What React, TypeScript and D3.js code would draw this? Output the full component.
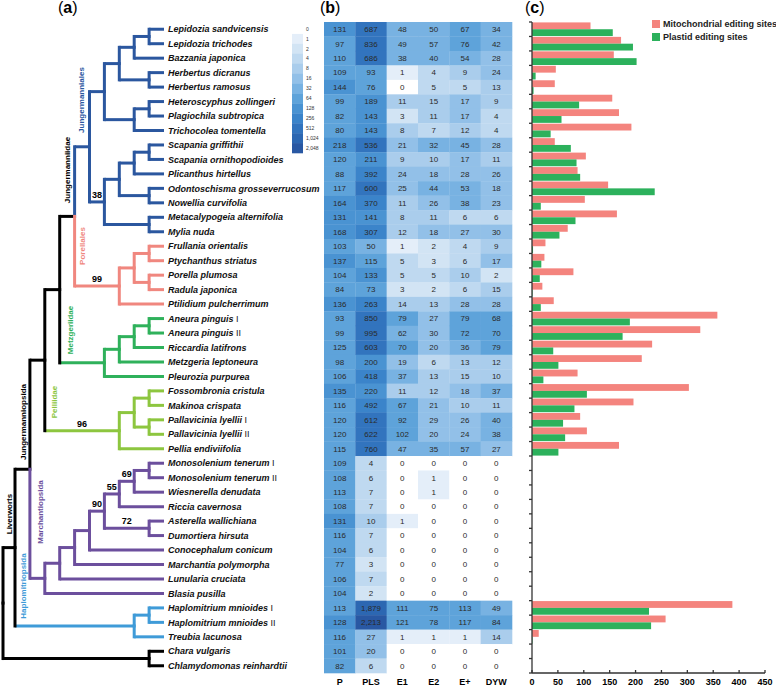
import React from "react";
import * as d3 from "d3";

const taxa = [
  "Lepidozia sandvicensis", "Lepidozia trichodes", "Bazzania japonica", "Herbertus dicranus", "Herbertus ramosus",
  "Heteroscyphus zollingeri", "Plagiochila subtropica", "Trichocolea tomentella", "Scapania griffithii", "Scapania ornithopodioides",
  "Plicanthus hirtellus", "Odontoschisma grosseverrucosum", "Nowellia curvifolia", "Metacalypogeia alternifolia", "Mylia nuda",
  "Frullania orientalis", "Ptychanthus striatus", "Porella plumosa", "Radula japonica", "Ptilidium pulcherrimum",
  "Aneura pinguis I", "Aneura pinguis II", "Riccardia latifrons", "Metzgeria leptoneura", "Pleurozia purpurea",
  "Fossombronia cristula", "Makinoa crispata", "Pallavicinia lyellii I", "Pallavicinia lyellii II", "Pellia endiviifolia",
  "Monosolenium tenerum I", "Monosolenium tenerum II", "Wiesnerella denudata", "Riccia cavernosa", "Asterella wallichiana",
  "Dumortiera hirsuta", "Conocephalum conicum", "Marchantia polymorpha", "Lunularia cruciata", "Blasia pusilla",
  "Haplomitrium mnioides I", "Haplomitrium mnioides II", "Treubia lacunosa", "Chara vulgaris", "Chlamydomonas reinhardtii",
];

const heatColumns = ["P", "PLS", "E1", "E2", "E+", "DYW"];
const valP = [131, 97, 110, 109, 144, 99, 82, 80, 218, 120, 88, 117, 164, 131, 168, 103, 137, 104, 84, 136, 93, 99, 125, 98, 106, 135, 116, 120, 120, 115, 109, 108, 113, 108, 131, 116, 104, 77, 106, 104, 113, 128, 116, 101, 82];
const valPLS = [687, 836, 686, 93, 76, 189, 143, 143, 536, 211, 392, 600, 370, 141, 307, 50, 115, 133, 73, 263, 850, 995, 603, 200, 418, 220, 492, 612, 622, 760, 4, 6, 7, 7, 10, 7, 6, 3, 7, 2, 1879, 2213, 27, 20, 6];
const valE1 = [48, 49, 38, 1, 0, 11, 3, 8, 21, 9, 24, 25, 11, 8, 12, 1, 5, 5, 3, 14, 79, 62, 70, 19, 37, 11, 67, 92, 102, 47, 0, 0, 0, 0, 1, 0, 0, 0, 0, 0, 111, 121, 1, 0, 0];
const valE2 = [50, 57, 40, 4, 5, 15, 11, 7, 32, 10, 18, 44, 26, 11, 18, 2, 3, 5, 2, 13, 27, 30, 20, 6, 13, 12, 21, 29, 20, 35, 0, 1, 1, 0, 0, 0, 0, 0, 0, 0, 75, 78, 1, 0, 0];
const valEplus = [67, 76, 54, 9, 5, 17, 17, 12, 45, 17, 28, 53, 38, 6, 27, 4, 6, 10, 6, 28, 79, 72, 36, 13, 15, 18, 10, 26, 24, 57, 0, 0, 0, 0, 0, 0, 0, 0, 0, 0, 113, 117, 1, 0, 0];
const valDYW = [34, 42, 28, 24, 13, 9, 4, 4, 28, 11, 26, 18, 23, 6, 30, 9, 17, 2, 15, 28, 68, 70, 79, 12, 10, 37, 11, 40, 38, 27, 0, 0, 0, 0, 0, 0, 0, 0, 0, 0, 49, 84, 14, 0, 0];

const legendBreaks = [0, 1, 2, 4, 8, 16, 32, 64, 128, 256, 512, 1024, 2048];
const legendColors = ["#ffffff", "#e4eef9", "#d2e4f4", "#bfd9f0", "#aacdec", "#92c0e8", "#78b2e2", "#5ea3da", "#4a93d2", "#3b84ca", "#3274be", "#2c67b2", "#2958a3"];

const mitoSites = [113, 172, 158, 46, 44, 155, 168, 192, 44, 104, 88, 147, 102, 164, 69, 26, 24, 80, 20, 42, 358, 325, 232, 212, 88, 303, 196, 93, 106, 168, 0, 0, 0, 0, 0, 0, 0, 0, 0, 0, 387, 258, 13, 0, 0];
const plastidSites = [156, 195, 202, 7, 3, 91, 57, 36, 75, 86, 93, 237, 17, 84, 53, 2, 18, 15, 1, 17, 189, 175, 41, 51, 22, 106, 82, 60, 64, 51, 0, 0, 0, 0, 0, 0, 0, 0, 0, 0, 226, 230, 1, 0, 0];
const barSeries = ["Mitochondrial editing sites", "Plastid editing sites"];
const barColors = ["#f4847e", "#2cb15c"];
const xTicks = [0, 50, 100, 150, 200, 250, 300, 350, 400, 450];

// tree topology: tip indices, support values, [clade] tags
const treeNewick =
  "(((((((((((0,1),2),(3,4)),((5,6),7)),((((8,9),10),(11,12)),(13,14))38)[Jungermanniales]," +
  "(((15,16),(17,18)),19)99[Porellales]),((((20,21),22),23),24)[Metzgeriidae])," +
  "(((25,26),(27,28)),29)96[Pelliidae]),((((((((30,31),32)69,33)55,(34,35)72)90,36),37),38),39)[Marchantiopsida])," +
  "((40,41),42)[Haplomitriopsida]),(43,44))";

const cladeNames = ["Jungermanniales", "Porellales", "Metzgeriidae", "Pelliidae", "Marchantiopsida", "Haplomitriopsida"];
const cladeColors = ["#2b579f", "#f0877f", "#2fb15b", "#8dc63f", "#6c4f9d", "#3f9bd8"];
const cladeColoredStem = [true, true, false, false, true, false];

const FONT = "'Liberation Sans', Arial, Helvetica, sans-serif";

function parseNewick(s: string) {
  let i = 0;
  function node(): any {
    const n: any = { children: [] };
    if (s[i] === "(") {
      i++;
      n.children.push(node());
      while (s[i] === ",") {
        i++;
        n.children.push(node());
      }
      i++;
    }
    let lab = "";
    while (i < s.length && /[0-9]/.test(s[i])) lab += s[i++];
    if (s[i] === "[") {
      const j = s.indexOf("]", i);
      n.clade = s.slice(i + 1, j);
      i = j + 1;
    }
    if (n.children.length === 0) n.tip = +lab;
    else if (lab) n.support = lab;
    return n;
  }
  return node();
}

export default function App() {
  const W = 776;
  const H = 689;
  const top = 22;
  const bottom = 673;
  const idx = taxa.map((_, i) => i);
  const rowBand = d3.scaleBand<number>().domain(idx).range([top, bottom]).padding(0);
  const yc = (i: number) => (rowBand(i) as number) + rowBand.bandwidth() / 2;

  // ---------- tree ----------
  const root = d3.hierarchy(parseNewick(treeNewick), (d: any) => (d.children.length ? d.children : null));
  const maxLevel = 11;
  root.eachAfter((n: any) => {
    if (!n.children) {
      n.level = maxLevel;
      n.yy = yc(n.data.tip);
    } else {
      n.level = d3.min(n.children, (c: any) => c.level) - 1;
      n.yy = (n.children[0].yy + n.children[n.children.length - 1].yy) / 2;
    }
  });
  const xTree = d3.scaleLinear().domain([0, 1, maxLevel]).range([3, 15, 164]);
  const cladeColor = d3.scaleOrdinal<string, string>().domain(cladeNames).range(cladeColors);
  root.eachBefore((n: any) => {
    n.color = n.data.clade ? cladeColor(n.data.clade) : n.parent ? n.parent.color : "#000";
  });
  const hLinks: any[] = [];
  const vLinks: any[] = [];
  const supports: any[] = [];
  root.descendants().forEach((c: any) => {
    if (!c.parent) return;
    const p = c.parent;
    const coloredStem = c.data.clade ? cladeColoredStem[cladeNames.indexOf(c.data.clade)] : true;
    hLinks.push({ x1: xTree(p.level), x2: xTree(c.level), y: c.yy, color: c.color });
    vLinks.push({ x: xTree(p.level), y1: p.yy, y2: c.yy, color: coloredStem ? c.color : p.color });
    if (c.data.support) supports.push({ x: (xTree(p.level) + xTree(c.level)) / 2, y: c.yy - 4, t: c.data.support });
  });

  // ---------- heatmap ----------
  const heatValues = [valP, valPLS, valE1, valE2, valEplus, valDYW];
  const xHeat = d3.scaleBand<string>().domain(heatColumns).range([324, 512]);
  const heatColor = d3.scaleThreshold<number, string>().domain(legendBreaks.slice(1)).range(legendColors);
  const fmt = d3.format(",");
  const legendY = d3.scaleBand<number>().domain(legendBreaks).range([24, 153]);

  // ---------- bars ----------
  const xBar = d3.scaleLinear().domain([0, 450]).range([532, 765]);
  const subBand = d3.scaleBand<number>().domain([0, 1]).range([0, rowBand.bandwidth()]).paddingOuter(0.06).paddingInner(0);
  const barValues = [mitoSites, plastidSites];

  const cladeLabels = [
    { t: "Jungermanniales", x: 81, y: 100, c: cladeColors[0] },
    { t: "Jungermanniidae", x: 67, y: 170, c: "#000" },
    { t: "Porellales", x: 82, y: 246, c: cladeColors[1] },
    { t: "Metzgeriidae", x: 70, y: 330, c: cladeColors[2] },
    { t: "Pelliidae", x: 54, y: 402, c: cladeColors[3] },
    { t: "Jungermanniopsida", x: 23, y: 422, c: "#000" },
    { t: "Marchantiopsida", x: 40, y: 512, c: cladeColors[4] },
    { t: "Liverworts", x: 9, y: 514, c: "#000" },
    { t: "Haplomitriopsida", x: 23, y: 586, c: cladeColors[5] },
  ];

  return (
    <svg width={W} height={H} style={{ position: "absolute", left: 0, top: 0, background: "#fff" }} fontFamily={FONT}>
      {/* panel labels */}
      <text x={58} y={13} fontSize={16}>(<tspan fontWeight="bold">a</tspan>)</text>
      <text x={320} y={13} fontSize={16}>(<tspan fontWeight="bold">b</tspan>)</text>
      <text x={525} y={13} fontSize={16}>(<tspan fontWeight="bold">c</tspan>)</text>

      {/* tree */}
      <g fill="none" strokeWidth={3}>
        {hLinks.map((l, i) => (
          <line key={"h" + i} x1={l.x1} x2={l.x2} y1={l.y} y2={l.y} stroke={l.color} strokeLinecap="butt" />
        ))}
        {vLinks.map((l, i) => (
          <line key={"v" + i} x1={l.x} x2={l.x} y1={l.y1} y2={l.y2} stroke={l.color} strokeLinecap="square" />
        ))}
      </g>
      {supports.map((s, i) => (
        <text key={"s" + i} x={s.x} y={s.y} fontSize={9} fontWeight="bold" textAnchor="middle">{s.t}</text>
      ))}
      {cladeLabels.map((c, i) => (
        <text key={"c" + i} transform={`translate(${c.x},${c.y}) rotate(-90)`} fontSize={8} fontWeight="bold" fill={c.c} textAnchor="middle" dy="0.35em">{c.t}</text>
      ))}
      {taxa.map((t, i) => {
        const m = t.match(/^(.*?)( I{1,2})$/);
        const base = m ? m[1] : t;
        const suf = m ? m[2] : "";
        return (
          <text key={"t" + i} x={168} y={yc(i)} dy="0.35em" fontSize={9} fontWeight="bold" fontStyle="italic" fill="#111">
            {base}
            {suf && <tspan fontStyle="normal" fontWeight="normal">{suf}</tspan>}
          </text>
        );
      })}

      {/* heat legend */}
      {legendBreaks.map((b, i) => (
        <g key={"lg" + i}>
          <rect x={292} y={legendY(b)} width={11} height={legendY.bandwidth() + 0.3} fill={legendColors[i]} />
          <text x={306} y={(legendY(b) as number) + legendY.bandwidth() / 2} dy="0.35em" fontSize={5} fill="#333">{fmt(b)}</text>
        </g>
      ))}

      {/* heatmap */}
      {heatColumns.map((col, ci) =>
        taxa.map((_, ri) => {
          const v = heatValues[ci][ri];
          return (
            <g key={col + ri}>
              <rect x={xHeat(col)} y={rowBand(ri)} width={xHeat.bandwidth() + 0.3} height={rowBand.bandwidth() + 0.3} fill={heatColor(v)} />
              <text x={(xHeat(col) as number) + xHeat.bandwidth() / 2} y={yc(ri)} dy="0.35em" fontSize={8} textAnchor="middle" fill="#2a2a2a">{fmt(v)}</text>
            </g>
          );
        })
      )}
      {heatColumns.map((col) => (
        <text key={"hc" + col} x={(xHeat(col) as number) + xHeat.bandwidth() / 2} y={685} fontSize={9} fontWeight="bold" textAnchor="middle">{col}</text>
      ))}

      {/* bars */}
      {barValues.map((vals, si) =>
        vals.map((v, ri) =>
          v > 0 ? (
            <rect key={"b" + si + "_" + ri} x={xBar(0)} y={(rowBand(ri) as number) + (subBand(si) as number)} width={xBar(v) - xBar(0)} height={subBand.bandwidth()} fill={barColors[si]} />
          ) : null
        )
      )}
      <g stroke="#333" strokeWidth={1.3}>
        <line x1={xBar(0)} x2={xBar(0)} y1={top} y2={bottom} />
        <line x1={xBar(0)} x2={xBar(450)} y1={bottom} y2={bottom} />
        {d3.range(taxa.length + 1).map((i) => {
          const y = i < taxa.length ? (rowBand(i) as number) : bottom;
          return <line key={"yt" + i} x1={xBar(0) - 3} x2={xBar(0)} y1={y} y2={y} />;
        })}
        {xTicks.map((t) => (
          <line key={"xt" + t} x1={xBar(t)} x2={xBar(t)} y1={bottom} y2={bottom - 3} />
        ))}
      </g>
      {xTicks.map((t) => (
        <text key={"xl" + t} x={xBar(t)} y={685} fontSize={9} fontWeight="bold" textAnchor="middle">{t}</text>
      ))}

      {/* bar legend */}
      {barSeries.map((s, i) => (
        <g key={"bl" + i}>
          <rect x={652} y={20 + i * 13} width={8} height={8} fill={barColors[i]} />
          <text x={663} y={24 + i * 13} dy="0.35em" fontSize={9} fontWeight="bold" fill="#222">{s}</text>
        </g>
      ))}
    </svg>
  );
}
